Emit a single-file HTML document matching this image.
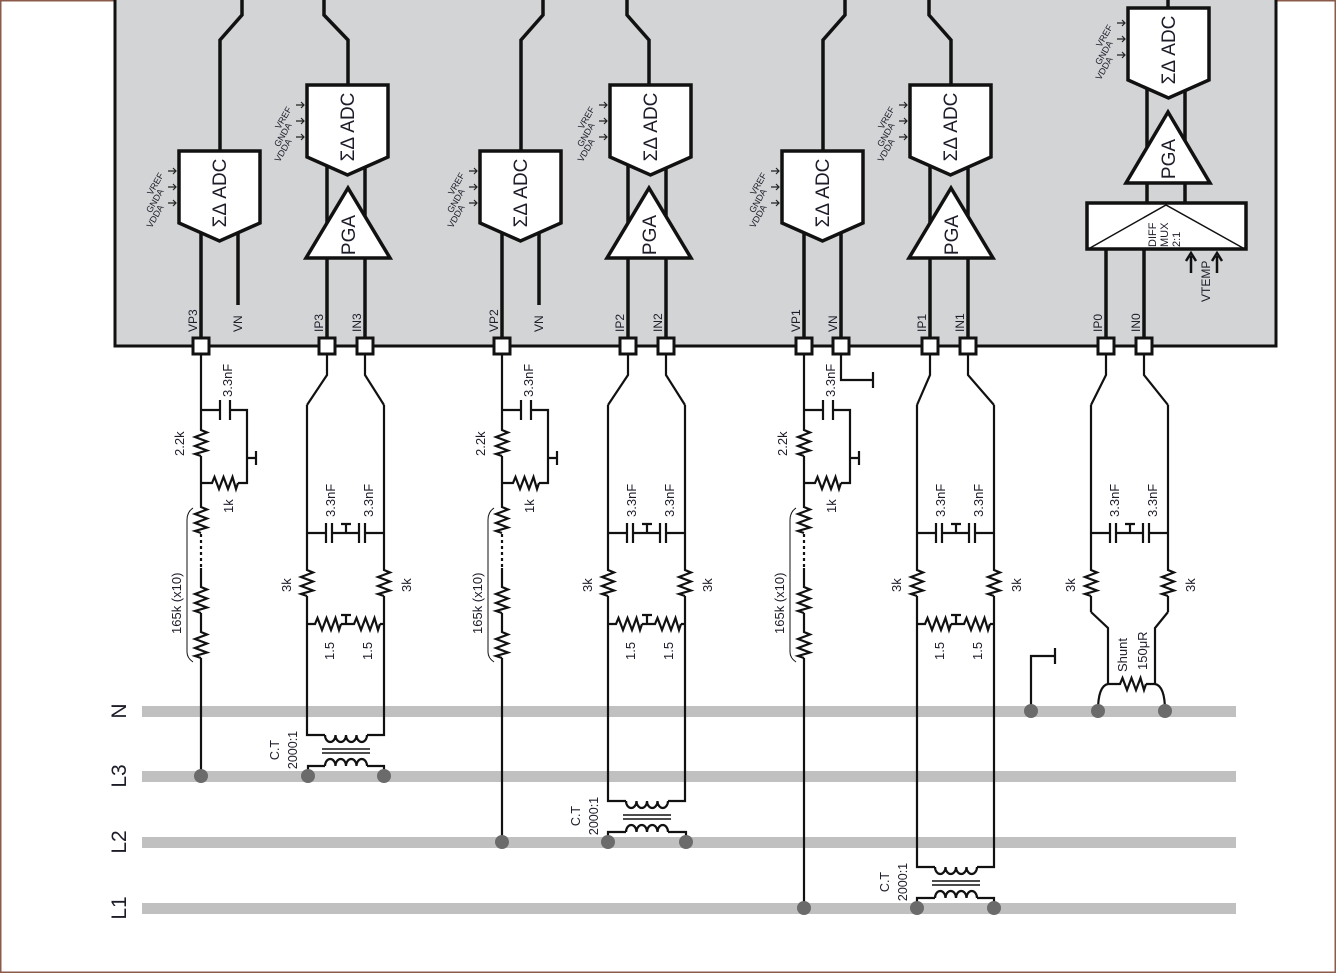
<!DOCTYPE html>
<html><head><meta charset="utf-8"><style>
html,body{margin:0;padding:0;background:#fff}
svg{display:block}
text{font-family:"Liberation Sans",sans-serif;fill:#1d1d2a}
</style></head><body>
<svg width="1336" height="973" viewBox="0 0 1336 973" xmlns="http://www.w3.org/2000/svg">
<defs>
<g id="rv"><line x1="0" y1="0" x2="0" y2="28" stroke="#fff" stroke-width="5"/><path d="M0,0 V2 L6,4.5 L-6,9 L6,13.5 L-6,18 L6,22.5 L-6,26 L0,28" fill="none" stroke="#111" stroke-width="2.2" stroke-linejoin="miter"/></g>
<g id="rh"><use href="#rv" transform="rotate(-90)"/></g>
<path id="adc" d="M0,0 H81 V72 L40.5,90 L0,72 Z" fill="#fff" stroke="#111" stroke-width="3.5"/>
<g id="arr"><path d="M0,0 H8 M5,-3 L8,0 L5,3" fill="none" stroke="#222" stroke-width="1.2"/></g>
<g id="arrs"><use href="#arr" x="-11" y="20"/><use href="#arr" x="-11" y="36"/><use href="#arr" x="-11" y="52"/></g>
</defs>
<rect x="0.5" y="0.5" width="1335" height="972" fill="#fff" stroke="#8b5a4a" stroke-width="2"/>
<rect x="115" y="-10" width="1161" height="356" fill="#d3d4d6" stroke="#111" stroke-width="3"/>
<g fill="none" stroke="#111" stroke-width="3.5">
<path d="M220,151 V40 L242,15 V-5"/>
<path d="M348,85 V40 L324,15 V-5"/>
<path d="M521,151 V40 L543,15 V-5"/>
<path d="M649,85 V40 L627,15 V-5"/>
<path d="M823,151 V40 L845,15 V-5"/>
<path d="M951,85 V40 L929,15 V-5"/>
<path d="M1168,8 V-5"/>
<path d="M201,225 V338 M238,225 V305"/>
<path d="M502,225 V338 M539,225 V305"/>
<path d="M804,225 V338 M841,225 V338"/>
<path d="M327,160 V338 M365,160 V338"/>
<path d="M628,160 V338 M666,160 V338"/>
<path d="M930,160 V338 M968,160 V338"/>
<path d="M1147,80 V203 M1185,80 V203 M1106,249 V338 M1144,249 V338"/>
</g>
<use href="#adc" x="179" y="151"/><use href="#adc" x="307" y="85"/>
<use href="#adc" x="480" y="151"/><use href="#adc" x="610" y="85"/>
<use href="#adc" x="782" y="151"/><use href="#adc" x="910" y="85"/>
<use href="#adc" x="1128" y="8"/>
<use href="#arrs" x="179" y="151"/><use href="#arrs" x="307" y="85"/>
<use href="#arrs" x="480" y="151"/><use href="#arrs" x="610" y="85"/>
<use href="#arrs" x="782" y="151"/><use href="#arrs" x="910" y="85"/>
<use href="#arrs" x="1128" y="3"/>
<g font-size="9">
<text transform="translate(164,175) rotate(-60)" text-anchor="end">VREF</text><text transform="translate(164,191) rotate(-60)" text-anchor="end">GNDA</text><text transform="translate(164,207) rotate(-60)" text-anchor="end">VDDA</text>
<text transform="translate(292,109) rotate(-60)" text-anchor="end">VREF</text><text transform="translate(292,125) rotate(-60)" text-anchor="end">GNDA</text><text transform="translate(292,141) rotate(-60)" text-anchor="end">VDDA</text>
<text transform="translate(465,175) rotate(-60)" text-anchor="end">VREF</text><text transform="translate(465,191) rotate(-60)" text-anchor="end">GNDA</text><text transform="translate(465,207) rotate(-60)" text-anchor="end">VDDA</text>
<text transform="translate(595,109) rotate(-60)" text-anchor="end">VREF</text><text transform="translate(595,125) rotate(-60)" text-anchor="end">GNDA</text><text transform="translate(595,141) rotate(-60)" text-anchor="end">VDDA</text>
<text transform="translate(767,175) rotate(-60)" text-anchor="end">VREF</text><text transform="translate(767,191) rotate(-60)" text-anchor="end">GNDA</text><text transform="translate(767,207) rotate(-60)" text-anchor="end">VDDA</text>
<text transform="translate(895,109) rotate(-60)" text-anchor="end">VREF</text><text transform="translate(895,125) rotate(-60)" text-anchor="end">GNDA</text><text transform="translate(895,141) rotate(-60)" text-anchor="end">VDDA</text>
<text transform="translate(1113,27) rotate(-60)" text-anchor="end">VREF</text><text transform="translate(1113,43) rotate(-60)" text-anchor="end">GNDA</text><text transform="translate(1113,59) rotate(-60)" text-anchor="end">VDDA</text>
</g>
<g font-size="19" text-anchor="middle">
<text transform="translate(226,193) rotate(-90)">ΣΔ ADC</text>
<text transform="translate(354,127) rotate(-90)">ΣΔ ADC</text>
<text transform="translate(527,193) rotate(-90)">ΣΔ ADC</text>
<text transform="translate(657,127) rotate(-90)">ΣΔ ADC</text>
<text transform="translate(829,193) rotate(-90)">ΣΔ ADC</text>
<text transform="translate(957,127) rotate(-90)">ΣΔ ADC</text>
<text transform="translate(1175,50) rotate(-90)">ΣΔ ADC</text>
</g>
<g fill="#fff" stroke="#111" stroke-width="3.5">
<path d="M306,258 L348,188 L390,258 Z"/>
<path d="M607,258 L649,188 L691,258 Z"/>
<path d="M909,258 L951,188 L993,258 Z"/>
<path d="M1126,183 L1168,112 L1210,183 Z"/>
<rect x="1087" y="203" width="159" height="46"/>
</g>
<g font-size="19" text-anchor="middle">
<text transform="translate(355,235) rotate(-90)">PGA</text>
<text transform="translate(656,235) rotate(-90)">PGA</text>
<text transform="translate(958,235) rotate(-90)">PGA</text>
<text transform="translate(1175,159) rotate(-90)">PGA</text>
</g>
<path d="M1090,248 L1166,205 L1243,248" fill="none" stroke="#111" stroke-width="1.5"/>
<g font-size="11">
<text transform="translate(1156,247) rotate(-90)">DIFF</text>
<text transform="translate(1168,247) rotate(-90)">MUX</text>
<text transform="translate(1180,247) rotate(-90)">2:1</text>
<text transform="translate(1210,302) rotate(-90)" font-size="12">VTEMP</text>
</g>
<path d="M1191,273 V256 M1186,261 L1191,253 L1196,261 M1217,273 V256 M1212,261 L1217,253 L1222,261" fill="none" stroke="#111" stroke-width="2.5"/>
<g fill="#fff" stroke="#111" stroke-width="3">
<rect x="193" y="338" width="16" height="16"/><rect x="319" y="338" width="16" height="16"/><rect x="357" y="338" width="16" height="16"/>
<rect x="494" y="338" width="16" height="16"/><rect x="620" y="338" width="16" height="16"/><rect x="658" y="338" width="16" height="16"/>
<rect x="796" y="338" width="16" height="16"/><rect x="833" y="338" width="16" height="16"/><rect x="922" y="338" width="16" height="16"/><rect x="960" y="338" width="16" height="16"/>
<rect x="1098" y="338" width="16" height="16"/><rect x="1136" y="338" width="16" height="16"/>
</g>
<g font-size="12">
<text transform="translate(197,332) rotate(-90)">VP3</text><text transform="translate(242,332) rotate(-90)">VN</text>
<text transform="translate(323,332) rotate(-90)">IP3</text><text transform="translate(361,332) rotate(-90)">IN3</text>
<text transform="translate(498,332) rotate(-90)">VP2</text><text transform="translate(543,332) rotate(-90)">VN</text>
<text transform="translate(624,332) rotate(-90)">IP2</text><text transform="translate(662,332) rotate(-90)">IN2</text>
<text transform="translate(800,332) rotate(-90)">VP1</text><text transform="translate(837,332) rotate(-90)">VN</text>
<text transform="translate(926,332) rotate(-90)">IP1</text><text transform="translate(964,332) rotate(-90)">IN1</text>
<text transform="translate(1102,332) rotate(-90)">IP0</text><text transform="translate(1140,332) rotate(-90)">IN0</text>
</g>
<g fill="#c0c0c0">
<rect x="142" y="706" width="1094" height="11"/><rect x="142" y="771" width="1094" height="11"/>
<rect x="142" y="837" width="1094" height="11"/><rect x="142" y="903" width="1094" height="11"/>
</g>
<g font-size="21" text-anchor="middle">
<text transform="translate(126,711) rotate(-90)">N</text>
<text transform="translate(126,776) rotate(-90)">L3</text>
<text transform="translate(126,842) rotate(-90)">L2</text>
<text transform="translate(126,908) rotate(-90)">L1</text>
</g>
<g id="vlow">
<g fill="none" stroke="#111" stroke-width="2.2">
<path d="M201,354 V532"/>
<path d="M201,534 V568" stroke-dasharray="3,3"/>
<path d="M201,568 V660"/>
<path d="M201,410 H220 M220,400 V420 M230,400 V420 M230,410 H247 V483 H201 M247,458 H256 M256,451 V465"/>
<path d="M193,508 Q187,512 187,520 V652 Q187,658 193,662" stroke-width="1"/>
</g>
<use href="#rv" x="201" y="428"/><use href="#rv" x="201" y="505"/><use href="#rv" x="201" y="585"/><use href="#rv" x="201" y="630"/>
<use href="#rh" x="210" y="483"/>
</g>
<use href="#vlow" x="301"/><use href="#vlow" x="603"/>
<g font-size="13">
<text transform="translate(232,397) rotate(-90)">3.3nF</text><text transform="translate(184,456) rotate(-90)">2.2k</text><text transform="translate(233,513) rotate(-90)">1k</text><text transform="translate(181,634) rotate(-90)">165k  (x10)</text>
<text transform="translate(533,397) rotate(-90)">3.3nF</text><text transform="translate(485,456) rotate(-90)">2.2k</text><text transform="translate(534,513) rotate(-90)">1k</text><text transform="translate(482,634) rotate(-90)">165k  (x10)</text>
<text transform="translate(835,397) rotate(-90)">3.3nF</text><text transform="translate(787,456) rotate(-90)">2.2k</text><text transform="translate(836,513) rotate(-90)">1k</text><text transform="translate(784,634) rotate(-90)">165k  (x10)</text>
</g>
<g fill="none" stroke="#111" stroke-width="2.2">
<path d="M201,660 V776 M502,660 V842 M804,660 V908"/>
<path d="M841,354 V380 H873 M873,372 V388"/>
</g>
<g id="ilowA">
<g fill="none" stroke="#111" stroke-width="2.2">
<path d="M307,405 V612 M384,405 V612"/>
<path d="M307,533 H326 M326,523 V543 M332,523 V543 M332,533 H359 M359,523 V543 M365,523 V543 M365,533 H384 M346,533 V524 M341,524 H351"/>
</g>
<use href="#rv" x="307" y="568"/><use href="#rv" x="384" y="568"/>
</g>
<g id="ilowB">
<path d="M307,624 H384 M346,624 V615 M341,615 H351" fill="none" stroke="#111" stroke-width="2.2"/>
<use href="#rh" x="313" y="624"/><use href="#rh" x="352" y="624"/>
</g>
<use href="#ilowA" x="301"/><use href="#ilowA" x="610"/><use href="#ilowA" x="784"/>
<use href="#ilowB" x="301"/><use href="#ilowB" x="610"/>
<g font-size="13">
<text transform="translate(335,517) rotate(-90)">3.3nF</text><text transform="translate(373,517) rotate(-90)">3.3nF</text>
<text transform="translate(291,592) rotate(-90)">3k</text><text transform="translate(411,592) rotate(-90)">3k</text>
<text transform="translate(334,660) rotate(-90)">1.5</text><text transform="translate(372,660) rotate(-90)">1.5</text>
<text transform="translate(636,517) rotate(-90)">3.3nF</text><text transform="translate(674,517) rotate(-90)">3.3nF</text>
<text transform="translate(592,592) rotate(-90)">3k</text><text transform="translate(712,592) rotate(-90)">3k</text>
<text transform="translate(635,660) rotate(-90)">1.5</text><text transform="translate(673,660) rotate(-90)">1.5</text>
<text transform="translate(945,517) rotate(-90)">3.3nF</text><text transform="translate(983,517) rotate(-90)">3.3nF</text>
<text transform="translate(901,592) rotate(-90)">3k</text><text transform="translate(1021,592) rotate(-90)">3k</text>
<text transform="translate(944,660) rotate(-90)">1.5</text><text transform="translate(982,660) rotate(-90)">1.5</text>
<text transform="translate(1119,517) rotate(-90)">3.3nF</text><text transform="translate(1157,517) rotate(-90)">3.3nF</text>
<text transform="translate(1075,592) rotate(-90)">3k</text><text transform="translate(1195,592) rotate(-90)">3k</text>
</g>
<g fill="none" stroke="#111" stroke-width="2.2">
<path d="M327,354 V375 L307,405 M365,354 V375 L384,405"/>
<path d="M628,354 V375 L608,405 M666,354 V375 L685,405"/>
<path d="M930,354 V375 L917,405 M968,354 V375 L994,405"/>
<path d="M1106,354 V375 L1091,405 M1144,354 V375 L1168,405"/>
<path d="M307,612 V735 H325 M384,612 V735 H367 M325,766 H308 V776 M367,766 H384 V776"/>
<path d="M608,612 V801 H626 M685,612 V801 H668 M626,832 H608 V842 M668,832 H686 V842"/>
<path d="M917,612 V867 H935 M994,612 V867 H977 M935,898 H917 V908 M977,898 H994 V908"/>
<g id="tx">
<path d="M325,735 a5.25,7 0 0 0 10.5,0 a5.25,7 0 0 0 10.5,0 a5.25,7 0 0 0 10.5,0 a5.25,7 0 0 0 10.5,0"/>
<path d="M325,766 a5.25,7 0 0 1 10.5,0 a5.25,7 0 0 1 10.5,0 a5.25,7 0 0 1 10.5,0 a5.25,7 0 0 1 10.5,0"/>
<path d="M322,749 H370 M322,753 H370" stroke-width="1.6"/>
</g>
<use href="#tx" x="301" y="66"/><use href="#tx" x="610" y="132"/>
<path d="M1091,612 L1108,628 V684 M1168,612 L1155,628 V684 M1108,684 H1155"/>
<path d="M1108,684 Q1098,686 1098,711 M1155,684 Q1165,686 1165,711"/>
<path d="M1031,711 V656 H1055 M1055,648 V664"/>
</g>
<use href="#rh" x="1118" y="684"/>
<g font-size="13">
<text transform="translate(1127,672) rotate(-90)">Shunt</text>
<text transform="translate(1147,670) rotate(-90)">150μR</text>
</g>
<g font-size="12.5" text-anchor="middle">
<text transform="translate(279,750) rotate(-90)">C.T</text><text transform="translate(297,750) rotate(-90)">2000:1</text>
<text transform="translate(580,816) rotate(-90)">C.T</text><text transform="translate(598,816) rotate(-90)">2000:1</text>
<text transform="translate(889,882) rotate(-90)">C.T</text><text transform="translate(907,882) rotate(-90)">2000:1</text>
</g>
<g fill="#6b6b6b">
<circle cx="201" cy="776" r="7"/><circle cx="308" cy="776" r="7"/><circle cx="384" cy="776" r="7"/>
<circle cx="502" cy="842" r="7"/><circle cx="608" cy="842" r="7"/><circle cx="686" cy="842" r="7"/>
<circle cx="804" cy="908" r="7"/><circle cx="917" cy="908" r="7"/><circle cx="994" cy="908" r="7"/>
<circle cx="1031" cy="711" r="7"/><circle cx="1098" cy="711" r="7"/><circle cx="1165" cy="711" r="7"/>
</g>
</svg>
</body></html>
